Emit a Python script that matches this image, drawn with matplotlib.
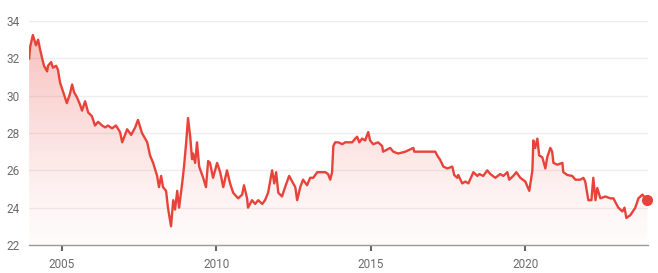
import numpy as np
import matplotlib
matplotlib.use("Agg")
import matplotlib.pyplot as plt
from matplotlib.patches import Polygon

# price history (decimal year, price)
years = [
    2003.95, 2003.98, 2004.07, 2004.17, 2004.24, 2004.30, 2004.37, 2004.43, 2004.53, 2004.56,
    2004.66, 2004.72, 2004.82, 2004.88, 2004.95, 2005.05, 2005.17, 2005.27, 2005.34, 2005.40,
    2005.50, 2005.60, 2005.66, 2005.76, 2005.86, 2005.98, 2006.08, 2006.18, 2006.31, 2006.41,
    2006.50, 2006.63, 2006.76, 2006.89, 2006.96, 2007.12, 2007.25, 2007.38, 2007.47, 2007.60,
    2007.77, 2007.86, 2007.96, 2008.09, 2008.15, 2008.22, 2008.28, 2008.38, 2008.44, 2008.54,
    2008.61, 2008.67, 2008.74, 2008.80, 2008.90, 2008.96, 2009.03, 2009.09, 2009.16, 2009.22,
    2009.25, 2009.32, 2009.38, 2009.45, 2009.58, 2009.67, 2009.74, 2009.80, 2009.90, 2010.03,
    2010.13, 2010.23, 2010.35, 2010.45, 2010.55, 2010.71, 2010.84, 2010.90, 2011.00, 2011.03,
    2011.16, 2011.26, 2011.36, 2011.49, 2011.58, 2011.68, 2011.81, 2011.88, 2011.94, 2012.01,
    2012.13, 2012.23, 2012.36, 2012.46, 2012.56, 2012.62, 2012.72, 2012.81, 2012.94, 2013.04,
    2013.14, 2013.27, 2013.40, 2013.46, 2013.53, 2013.62, 2013.69, 2013.75, 2013.79, 2013.85,
    2013.95, 2014.08, 2014.17, 2014.40, 2014.50, 2014.56, 2014.63, 2014.72, 2014.82, 2014.92,
    2014.98, 2015.08, 2015.24, 2015.37, 2015.40, 2015.63, 2015.73, 2015.89, 2016.12, 2016.38,
    2016.41, 2016.76, 2017.09, 2017.15, 2017.25, 2017.35, 2017.48, 2017.64, 2017.70, 2017.80,
    2017.83, 2017.96, 2018.06, 2018.16, 2018.32, 2018.45, 2018.51, 2018.64, 2018.77, 2018.87,
    2019.03, 2019.19, 2019.29, 2019.42, 2019.48, 2019.61, 2019.71, 2019.84, 2020.00, 2020.13,
    2020.23, 2020.26, 2020.32, 2020.39, 2020.45, 2020.55, 2020.65, 2020.71, 2020.81, 2020.87,
    2020.91, 2021.04, 2021.20, 2021.23, 2021.36, 2021.52, 2021.62, 2021.78, 2021.88, 2021.94,
    2022.04, 2022.14, 2022.20, 2022.27, 2022.33, 2022.43, 2022.59, 2022.75, 2022.85, 2023.01,
    2023.14, 2023.21, 2023.27, 2023.40, 2023.56, 2023.66, 2023.79, 2023.88, 2023.95,
]
prices = [
    32.0, 32.6, 33.25, 32.7, 33.0, 32.5, 32.0, 31.6, 31.3, 31.6,
    31.8, 31.5, 31.6, 31.4, 30.7, 30.2, 29.6, 30.1, 30.6, 30.2,
    29.9, 29.5, 29.2, 29.7, 29.1, 28.9, 28.4, 28.6, 28.4, 28.3,
    28.4, 28.25, 28.4, 28.05, 27.5, 28.2, 27.9, 28.3, 28.7, 28.0,
    27.5, 26.8, 26.4, 25.7, 25.1, 25.7, 25.1, 24.9, 24.0, 23.0,
    24.4, 23.9, 24.9, 24.0, 25.3, 26.2, 27.5, 28.8, 27.8, 26.6,
    26.9, 26.4, 27.5, 26.2, 25.6, 25.1, 26.5, 26.4, 25.6, 26.4,
    25.9, 25.1, 26.0, 25.3, 24.8, 24.5, 24.7, 25.2, 24.5, 24.0,
    24.4, 24.2, 24.4, 24.2, 24.4, 24.8, 26.0, 25.3, 25.9, 24.8,
    24.6, 25.1, 25.7, 25.4, 25.1, 24.4, 25.1, 25.5, 25.2, 25.6,
    25.6, 25.9, 25.9, 25.9, 25.9, 25.8, 25.5, 25.9, 27.3, 27.5,
    27.5, 27.4, 27.5, 27.5, 27.7, 27.8, 27.5, 27.7, 27.6, 28.05,
    27.6, 27.4, 27.5, 27.3, 27.0, 27.2, 27.0, 26.9, 27.0, 27.2,
    27.0, 27.0, 27.0, 26.8, 26.55, 26.2, 26.1, 26.2, 25.75, 25.6,
    25.75, 25.3, 25.4, 25.3, 25.9, 25.7, 25.8, 25.7, 26.0, 25.8,
    25.6, 25.8, 25.7, 25.9, 25.5, 25.7, 25.9, 25.6, 25.4, 24.9,
    26.0, 27.6, 27.2, 27.7, 26.8, 26.7, 26.1, 26.7, 27.2, 27.0,
    26.4, 26.3, 26.4, 25.9, 25.75, 25.7, 25.5, 25.5, 25.6, 25.4,
    24.4, 24.4, 25.6, 24.4, 25.05, 24.5, 24.6, 24.5, 24.5, 24.0,
    23.8, 24.0, 23.45, 23.6, 24.0, 24.5, 24.7, 24.5, 24.4,
]
y_ticks = [22, 24, 26, 28, 30, 32, 34]
x_ticks = [2005, 2010, 2015, 2020]

LINE = "#e8433a"
GRID = "#eeeeee"
TEXT = "#6b6b6b"

plt.rcParams["font.family"] = ["Roboto", "DejaVu Sans"]

fig = plt.figure(figsize=(6.58, 2.73), dpi=100)
ax = fig.add_axes([29 / 658, 28 / 273, 619 / 658, 224 / 273])

x = np.array(years)
y = np.array(prices)
x0, x1 = 2003.945, 2023.97
ax.set_xlim(x0, x1)
ax.set_ylim(22, 34)

# gradient fill under the line, strongest at the top
grad = np.linspace(0, 1, 256).reshape(-1, 1)
rgba = np.zeros((256, 1, 4))
rgba[..., 0] = 0.91
rgba[..., 1] = 0.26
rgba[..., 2] = 0.23
rgba[..., 3] = 0.34 * grad[::-1] ** 1.3 + 0.02
img = ax.imshow(rgba, extent=[x0, x1, 22, 34], origin="upper", aspect="auto", zorder=1)
poly = Polygon(np.column_stack([np.r_[x[0], x, x[-1]], np.r_[22, y, 22]]),
               closed=True, facecolor="none", edgecolor="none")
ax.add_patch(poly)
img.set_clip_path(poly)

ax.plot(x, y, color=LINE, lw=1.7, zorder=3, solid_joinstyle="round")
ax.plot(x[-1:], y[-1:], "o", color=LINE, ms=7, zorder=4, clip_on=False)

ax.set_yticks(y_ticks)
ax.set_xticks(x_ticks)
ax.set_xticklabels([str(t) for t in x_ticks])
for t in y_ticks[1:]:
    ax.axhline(t, color=GRID, lw=1, zorder=0)

for s in ["top", "right", "left"]:
    ax.spines[s].set_visible(False)
ax.spines["bottom"].set_color("#9a9a9a")
ax.spines["bottom"].set_linewidth(1)

ax.tick_params(axis="y", length=0, pad=7, labelsize=8.5, labelcolor=TEXT)
ax.tick_params(axis="x", length=4, width=1.5, color="#666666", direction="out",
               pad=5, labelsize=8.5, labelcolor=TEXT)

fig.savefig("out.png", dpi=100)
